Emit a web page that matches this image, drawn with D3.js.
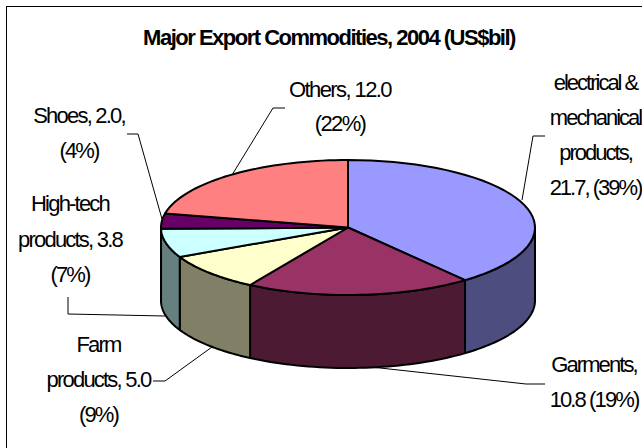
<!DOCTYPE html>
<html><head><meta charset="utf-8">
<script src="https://cdn.jsdelivr.net/npm/d3@7/dist/d3.min.js"></script>
<style>html,body{margin:0;padding:0;background:#fff}svg{display:block}
text{font-family:"Liberation Sans",Arial,sans-serif;fill:#000;text-anchor:middle}</style>
</head><body><svg id="c" width="642" height="448"></svg>
<script>
const title = "Major Export Commodities, 2004 (US$bil)";
const categories = ["electrical & mechanical products","Garments","Farm products","High-tech products","Shoes","Others"];
const values = [21.7,10.8,5.0,3.8,2.0,12.0];
const topColors = ["#9999FF","#993366","#FFFFCC","#CCFFFF","#660066","#FF8080"];
const sideColors = ["#4D4D80","#4D1A33","#808066","#668080","#330033","#804040"];
const labelLines = [
 ["electrical &","mechanical","products,","21.7, (39%)"],
 ["Garments,","10.8 (19%)"],
 ["Farm","products, 5.0","(9%)"],
 ["High-tech","products, 3.8","(7%)"],
 ["Shoes, 2.0,","(4%)"],
 ["Others, 12.0","(22%)"]];

const cx=348, cy=227.5, rx=187, ry=67.5, depth=73;
const px=d3.scaleLinear().domain([-1,1]).range([cx-rx,cx+rx]);
const py=d3.scaleLinear().domain([-1,1]).range([cy-ry,cy+ry]);
const svg=d3.select("#c");
svg.append("rect").attr("x",6.5).attr("y",6.5).attr("width",700).attr("height",600)
  .attr("fill","#fff").attr("stroke","#000").attr("stroke-width",1);

const arcs=d3.pie().sort(null).value(d=>d)(values);
const pt=(a,dy=0)=>[px(Math.sin(a)),py(-Math.cos(a))+dy];
const line=d3.line();
const samples=(a0,a1)=>d3.range(0,41).map(i=>a0+(a1-a0)*i/40);

const g=svg.append("g").attr("stroke","#000").attr("stroke-width",2).attr("stroke-linejoin","round");
arcs.forEach((d,i)=>{
  const a0=Math.max(d.startAngle,Math.PI/2), a1=Math.min(d.endAngle,Math.PI*1.5);
  if(a1<=a0) return;
  const s=samples(a0,a1);
  const pts=s.map(a=>pt(a)).concat(s.slice().reverse().map(a=>pt(a,depth)));
  g.append("path").attr("d",line(pts)+"Z").attr("fill",sideColors[i]);
});
arcs.forEach((d,i)=>{
  const pts=[[px(0),py(0)]].concat(samples(d.startAngle,d.endAngle).map(a=>pt(a)));
  g.append("path").attr("d",line(pts)+"Z").attr("fill",topColors[i]);
});

const leaders=[
 [[522,200],[533,136],[545,136]],
 [[371,367],[526,384],[545,384]],
 [[212,347],[165,381],[153,381]],
 [[165,316],[68,314],[68,297]],
 [[162,219],[138,134],[127,134]],
 [[232,175],[273,108],[285,108]]];
svg.append("g").selectAll("path").data(leaders).join("path")
  .attr("d",d=>line(d)).attr("fill","none").attr("stroke","#000").attr("stroke-width",1);

const labelPos=[{x:595.5,y:90},{x:594,y:372},{x:98.5,y:352},{x:70,y:211},{x:79,y:123},{x:340,y:97}];
const dyLine=[35,35,35,35.5,35,34];
const spacing=[-2,-1.9,-1.8,-1.8,-1.8,-1.6];
svg.append("text").attr("x",329).attr("y",45).attr("font-size",22).attr("font-weight","bold")
  .attr("letter-spacing",-1.5).text(title);
labelLines.forEach((ls,i)=>{
  const t=svg.append("text").attr("font-size",22).attr("letter-spacing",spacing[i]);
  ls.forEach((s,j)=>t.append("tspan").attr("x",labelPos[i].x).attr("y",labelPos[i].y+j*dyLine[i]).text(s));
});
</script></body></html>
